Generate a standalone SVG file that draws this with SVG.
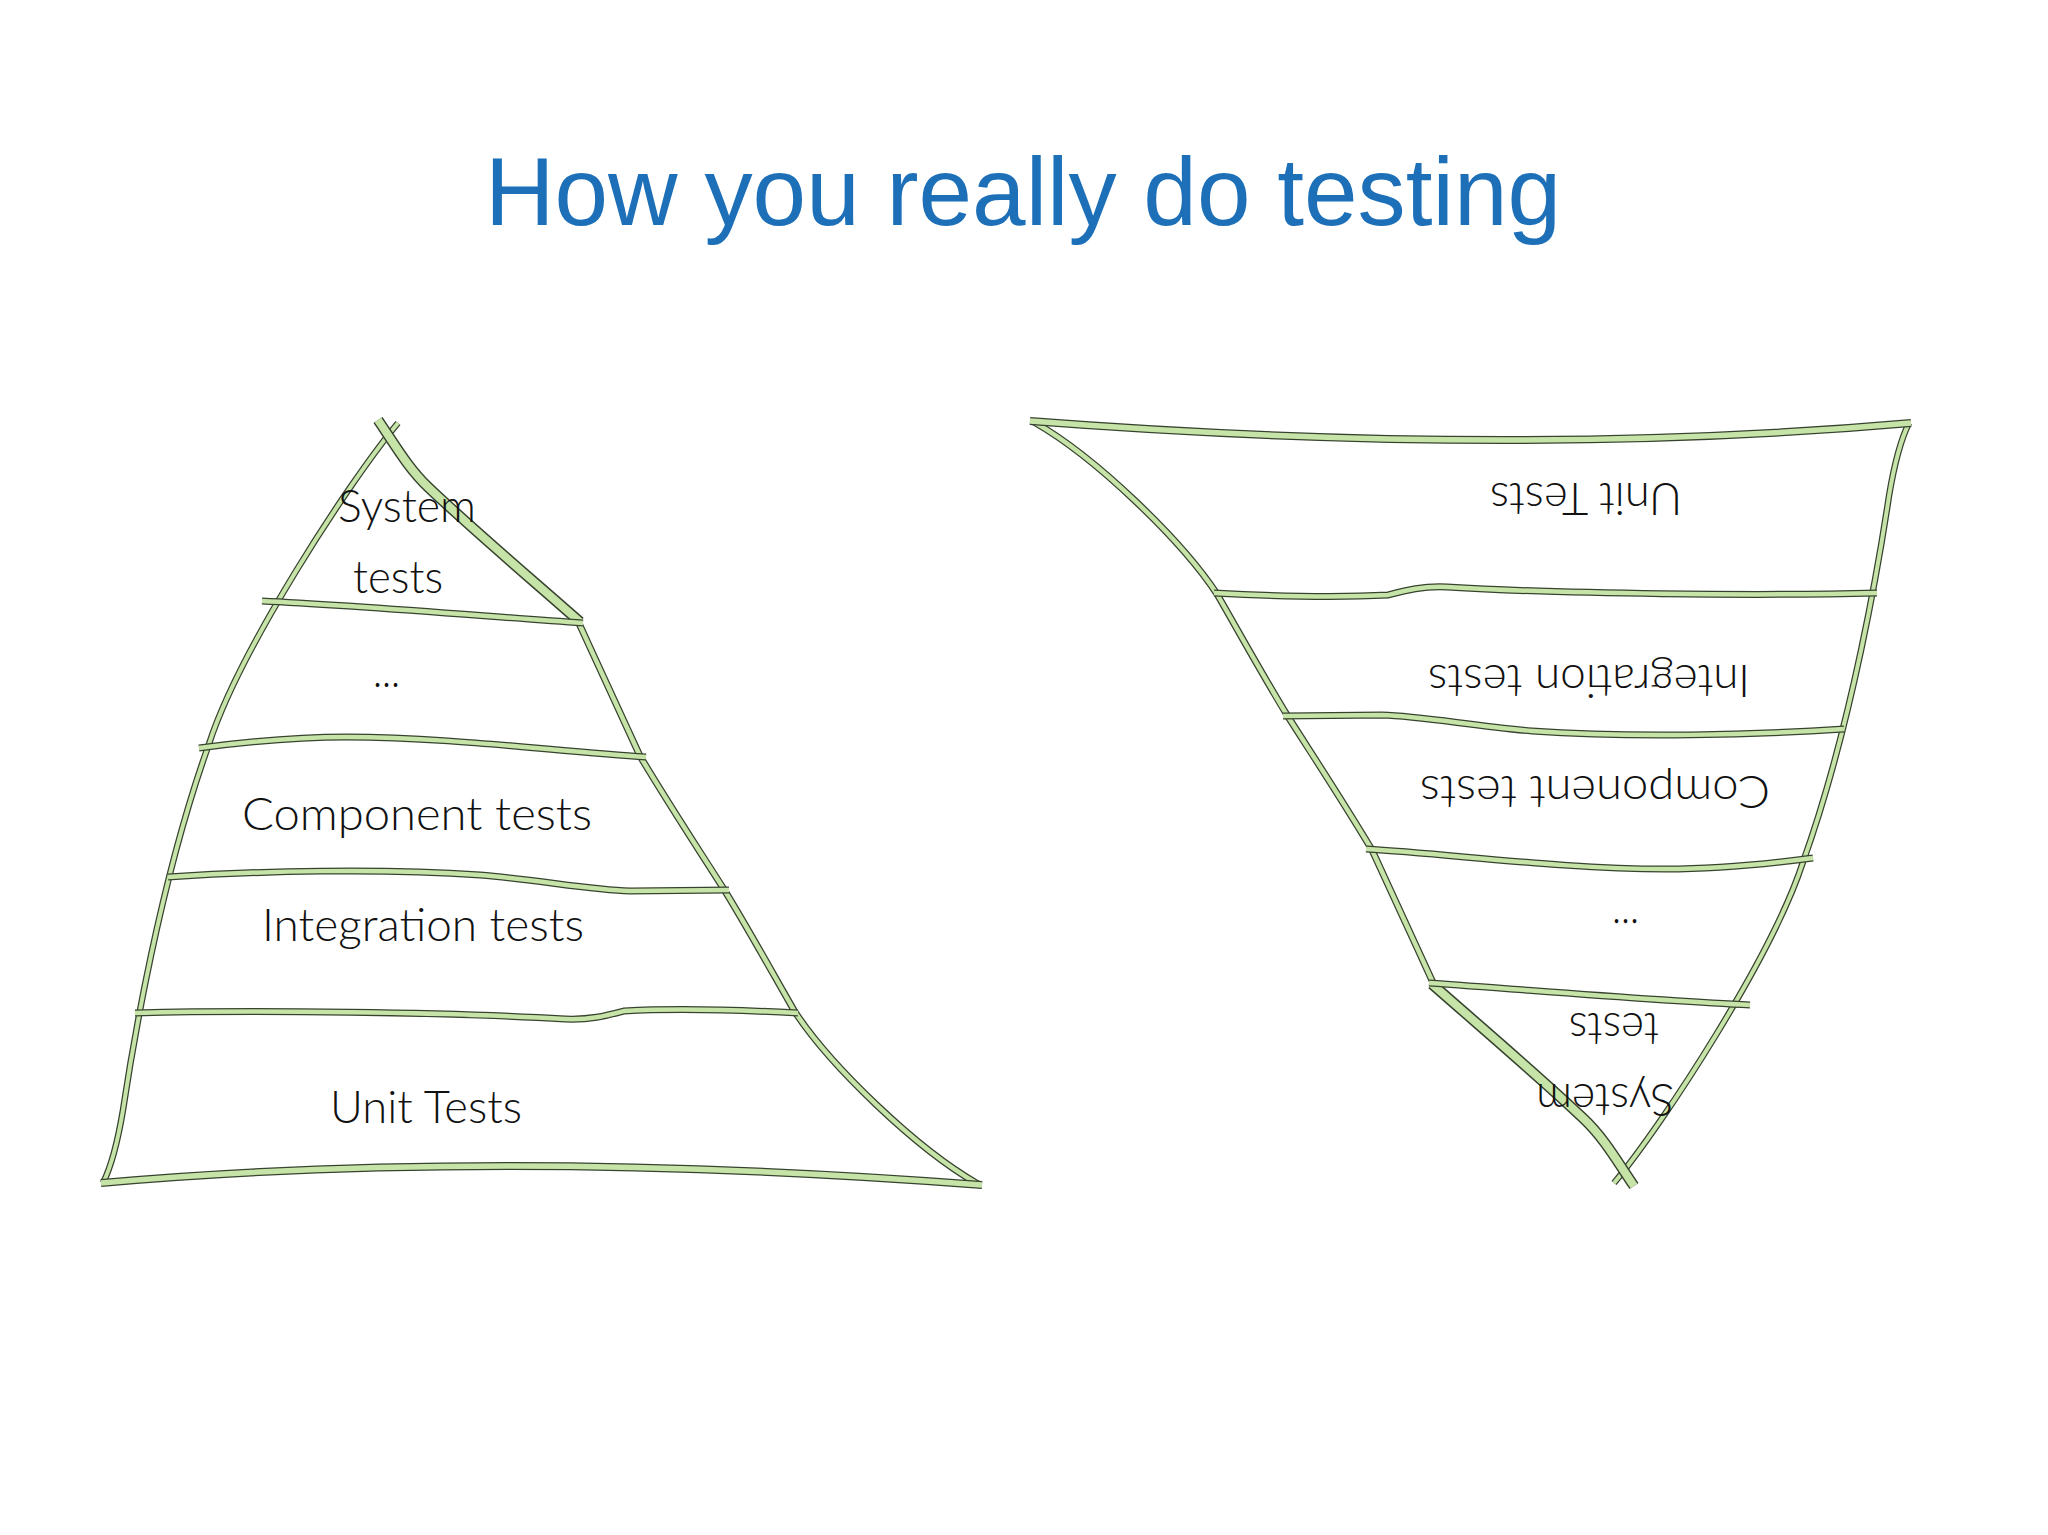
<svg xmlns="http://www.w3.org/2000/svg" width="2048" height="1535" viewBox="0 0 2048 1535">
<style>
.o{fill:none;stroke:#37432f;stroke-linejoin:round;stroke-linecap:butt}
.i{fill:none;stroke:#c7e4a8;stroke-linejoin:round;stroke-linecap:butt}
.lbl{font-family:Lato,"Open Sans","Liberation Sans",sans-serif;font-weight:300;font-size:46px;fill:#111}
.title{font-family:"Liberation Sans",Arial,sans-serif;font-size:96px;fill:#1d70b8}
</style>
<defs>
<path id="edgeL" d="M103,1183 C112,1165 118,1140 123,1110 C132,1050 160,880 209,744 C239,651 348,483 398,423"/>
<path id="edgeRU" d="M378,420 C395,445 408,468 428,487 C470,527 530,578 580,622"/>
<path id="edgeRL" d="M577,619 C598,665 620,712 640,756 C668,803 697,847 725,891 C750,932 772,972 795,1012 C830,1065 915,1148 978,1184"/>
<path id="t1" d="M262,601 C350,605 470,615 583,623"/>
<path id="t2" d="M199,748 C260,740 300,737 346,737 C450,737 560,752 646,757"/>
<path id="t3" d="M168,877 C260,871 380,868 480,875 C540,880 590,890 630,891 L729,890"/>
<path id="t4" d="M135,1013 C250,1010 450,1012 565,1019 C590,1020 605,1016 624,1011 C680,1008 760,1011 798,1013"/>
<path id="base" d="M101,1183 Q498,1148 982,1185"/>
</defs>
<rect x="0" y="0" width="2048" height="1535" fill="#ffffff"/>
<g id="title">
<text class="title" x="485" y="225" textLength="1076" lengthAdjust="spacingAndGlyphs">How you really do testing</text>
</g>
<g id="pyramid-left">
<g id="pyramid-left-lines">
<use href="#edgeL" class="o" stroke-width="6.5"/><use href="#edgeL" class="i" stroke-width="4"/>
<use href="#edgeRL" class="o" stroke-width="7"/><use href="#edgeRL" class="i" stroke-width="4.5"/>
<use href="#edgeRU" class="o" stroke-width="11"/><use href="#edgeRU" class="i" stroke-width="8"/>
<use href="#base" class="o" stroke-width="8"/><use href="#base" class="i" stroke-width="5.5"/>
<use href="#t1" class="o" stroke-width="7"/><use href="#t1" class="i" stroke-width="4.5"/>
<use href="#t2" class="o" stroke-width="7"/><use href="#t2" class="i" stroke-width="4.5"/>
<use href="#t3" class="o" stroke-width="7"/><use href="#t3" class="i" stroke-width="4.5"/>
<use href="#t4" class="o" stroke-width="7"/><use href="#t4" class="i" stroke-width="4.5"/>
</g>
<g id="left-system-tests">
<text class="lbl" x="338" y="522" textLength="138" lengthAdjust="spacingAndGlyphs">System</text>
<text class="lbl" x="353" y="593" textLength="90" lengthAdjust="spacingAndGlyphs">tests</text>
</g>
<g id="left-dots"><text class="lbl" x="373" y="687" textLength="27" lengthAdjust="spacingAndGlyphs">...</text></g>
<g id="left-component"><text class="lbl" x="242" y="830" textLength="350" lengthAdjust="spacingAndGlyphs">Component tests</text></g>
<g id="left-integration"><text class="lbl" x="262" y="941" textLength="322" lengthAdjust="spacingAndGlyphs">Integration tests</text></g>
<g id="left-unit"><text class="lbl" x="330" y="1123" textLength="192" lengthAdjust="spacingAndGlyphs">Unit Tests</text></g>
</g>
<g id="pyramid-right">
<use href="#pyramid-left-lines" transform="rotate(180 1006 803)"/>
<g id="right-labels" transform="rotate(180 1006 803)">
<g id="right-system-tests">
<text class="lbl" x="338" y="522" textLength="138" lengthAdjust="spacingAndGlyphs">System</text>
<text class="lbl" x="353" y="593" textLength="90" lengthAdjust="spacingAndGlyphs">tests</text>
</g>
<g id="right-dots"><text class="lbl" x="373" y="687" textLength="27" lengthAdjust="spacingAndGlyphs">...</text></g>
<g id="right-component"><text class="lbl" x="242" y="830" textLength="350" lengthAdjust="spacingAndGlyphs">Component tests</text></g>
<g id="right-integration"><text class="lbl" x="262" y="941" textLength="322" lengthAdjust="spacingAndGlyphs">Integration tests</text></g>
<g id="right-unit"><text class="lbl" x="330" y="1123" textLength="192" lengthAdjust="spacingAndGlyphs">Unit Tests</text></g>
</g>
</g>
</svg>
